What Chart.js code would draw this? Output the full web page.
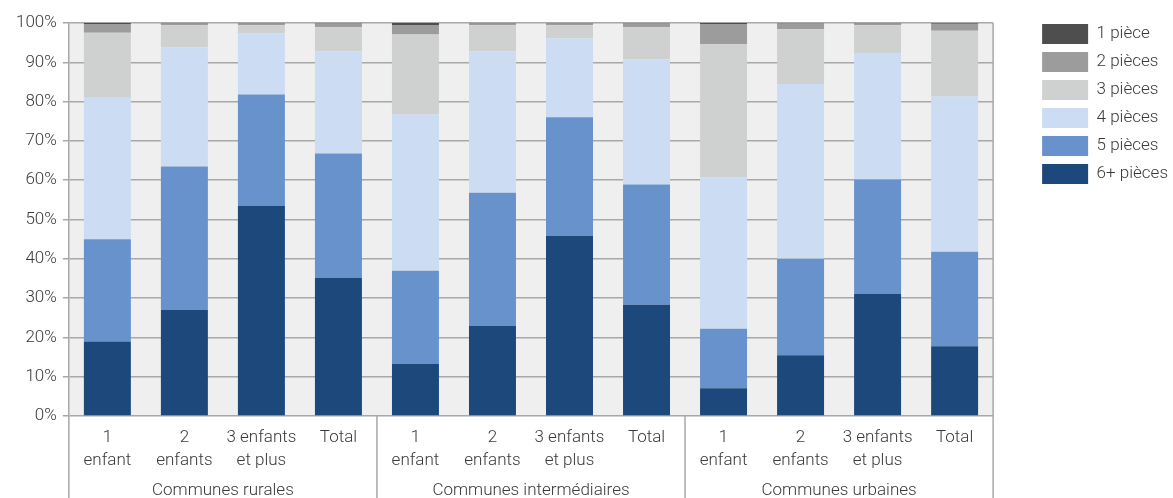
<!DOCTYPE html>
<html><head><meta charset="utf-8">
<script src="https://cdn.jsdelivr.net/npm/chart.js@4/dist/chart.umd.min.js"></script>
<style>html,body{margin:0;padding:0;background:#fff}</style>
</head><body>
<canvas id="c" width="1173" height="498"></canvas>
<script>
const groups = ["Communes rurales", "Communes intermédiaires", "Communes urbaines"];
const categories = [["1", "enfant"], ["2", "enfants"], ["3 enfants", "et plus"], ["Total"]];
const seriesNames = ["6+ pièces", "5 pièces", "4 pièces", "3 pièces", "2 pièces", "1 pièce"];
const p6 = [19.0, 27.0, 53.5, 35.2, 13.3, 22.9, 45.9, 28.3, 7.1, 15.5, 31.1, 17.8];
const p5 = [26.0, 36.5, 28.3, 31.6, 23.7, 33.9, 30.1, 30.6, 15.1, 24.5, 29.1, 24.0];
const p4 = [36.0, 30.3, 15.6, 26.0, 39.7, 36.0, 20.1, 31.8, 38.5, 44.5, 32.2, 39.5];
const p3 = [16.5, 5.6, 2.0, 6.1, 20.4, 6.6, 3.3, 8.2, 33.9, 13.9, 7.0, 16.7];
const p2 = [2.1, 0.5, 0.5, 1.0, 2.4, 0.5, 0.5, 1.0, 5.0, 1.5, 0.5, 1.8];
const p1 = [0.4, 0.1, 0.1, 0.1, 0.5, 0.1, 0.1, 0.1, 0.4, 0.1, 0.1, 0.2];
const seriesValues = [p6, p5, p4, p3, p2, p1];
const yTickValues = [0, 10, 20, 30, 40, 50, 60, 70, 80, 90, 100];
const colors = ["#1d487c", "#6892cb", "#ccdcf2", "#cfd1d0", "#9c9c9c", "#4e4e4e"];

const labels = [];
groups.forEach(() => categories.forEach(c => labels.push(c)));

const textColor = "#3a3a3a";
const lineColor = "#a8a8a8";
const fontSize = 17;
Chart.defaults.font.family = "Roboto";
Chart.defaults.font.weight = "300";
Chart.defaults.font.size = fontSize;
Chart.defaults.color = textColor;

const bgPlugin = {
  id: "plotBg",
  beforeDraw(chart) {
    const a = chart.chartArea, ctx = chart.ctx;
    ctx.save();
    ctx.fillStyle = "#efefef";
    ctx.fillRect(a.left, a.top, a.right - a.left, a.bottom - a.top);
    ctx.restore();
  }
};

const groupPlugin = {
  id: "groups",
  afterDraw(chart) {
    const x = chart.scales.x, a = chart.chartArea, ctx = chart.ctx;
    const n = categories.length;
    const half = (x.getPixelForValue(1) - x.getPixelForValue(0)) / 2;
    ctx.save();
    ctx.strokeStyle = lineColor;
    ctx.lineWidth = 1.5;
    for (let g = 0; g <= groups.length; g++) {
      const px = g < groups.length ? x.getPixelForValue(g * n) - half : x.getPixelForValue(g * n - 1) + half;
      ctx.beginPath();
      ctx.moveTo(px, g === groups.length ? a.top : a.bottom);
      ctx.lineTo(px, chart.height);
      ctx.stroke();
    }
    ctx.fillStyle = textColor;
    ctx.font = "300 " + fontSize + "px Roboto";
    ctx.textAlign = "center";
    ctx.textBaseline = "middle";
    groups.forEach((name, g) => {
      const l = x.getPixelForValue(g * n) - half;
      const r = x.getPixelForValue(g * n + n - 1) + half;
      ctx.fillText(name, (l + r) / 2, 491);
    });
    ctx.restore();
  }
};

const legendExtra = 36;
const legendShift = 41;
const legendRaise = 7;
const legendPlugin = {
  id: "legendShift",
  afterInit(chart) {
    const lg = chart.legend;
    const origFit = lg.fit.bind(lg);
    lg.fit = function () { origFit(); this.width += legendExtra; };
  },
  afterLayout(chart) {
    const lg = chart.legend;
    lg.left += legendShift;
    lg.right += legendShift;
    lg.top -= legendRaise;
    lg.bottom -= legendRaise;
  }
};

new Chart(document.getElementById("c"), {
  type: "bar",
  data: {
    labels: labels,
    datasets: seriesNames.map((name, i) => ({
      label: name,
      data: seriesValues[i],
      backgroundColor: colors[i],
      borderWidth: 0,
      barPercentage: 0.61,
      categoryPercentage: 1.0
    }))
  },
  options: {
    responsive: false,
    devicePixelRatio: 1,
    animation: false,
    layout: { padding: { top: 23, left: 10, right: 0, bottom: 16 } },
    plugins: {
      legend: {
        position: "right",
        align: "start",
        reverse: true,
        labels: { boxWidth: 46, boxHeight: 20, padding: 8, color: textColor, font: { size: fontSize, weight: "300" } }
      },
      tooltip: { enabled: false }
    },
    scales: {
      x: {
        stacked: true,
        grid: { display: false, drawTicks: false },
        border: { display: false },
        ticks: { autoSkip: false, maxRotation: 0, padding: 10, font: { size: fontSize, lineHeight: 1.35 }, color: textColor }
      },
      y: {
        stacked: true,
        min: 0, max: 100,
        afterBuildTicks(scale) { scale.ticks = yTickValues.map(v => ({ value: v })); },
        grid: { color: lineColor, lineWidth: 1.5, tickLength: 6 },
        border: { color: lineColor, width: 1.5 },
        ticks: { padding: 6, callback: v => v + "%", font: { size: fontSize }, color: textColor }
      }
    }
  },
  plugins: [bgPlugin, groupPlugin, legendPlugin]
});
</script>
</body></html>
